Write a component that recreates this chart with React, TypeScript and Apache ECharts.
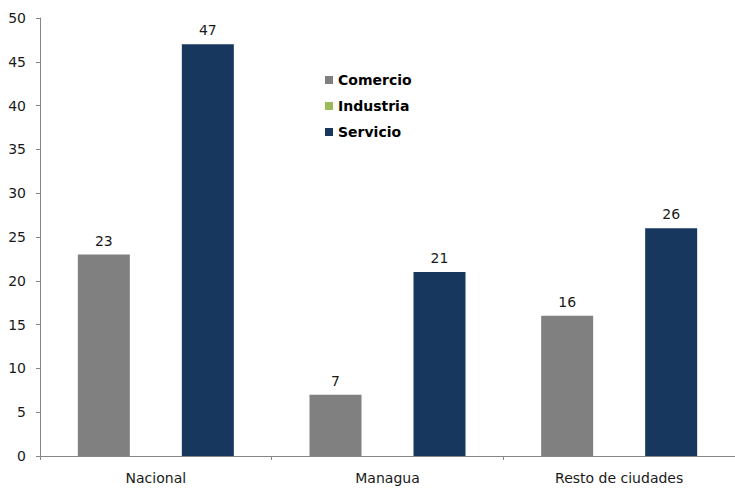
import React, { useEffect, useRef } from "react";
import * as echarts from "echarts";

const categories = ["Nacional", "Managua", "Resto de ciudades"];
const comercio = [23, 7, 16];
const industria: (number | null)[] = [null, null, null];
const servicio = [47, 21, 26];
const yTicks = { min: 0, max: 50, interval: 5 };

export default function App() {
  const ref = useRef<HTMLDivElement>(null);
  useEffect(() => {
    const chart = echarts.init(ref.current!, null, { renderer: "svg" });
    const font = "'DejaVu Sans', Verdana, sans-serif";
    const label = {
      show: true,
      position: "top" as const,
      color: "#1a1a1a",
      fontFamily: font,
      fontSize: 14,
      distance: 7,
    };
    chart.setOption({
      animation: false,
      backgroundColor: "#ffffff",
      grid: { left: 40, right: 0, top: 18, bottom: 33, containLabel: false },
      legend: {
        orient: "vertical",
        left: 320,
        top: 68,
        itemWidth: 8,
        itemHeight: 8,
        itemGap: 12,
        icon: "rect",
        textStyle: { fontFamily: font, fontSize: 14, fontWeight: "bold", color: "#000" },
        data: ["Comercio", "Industria", "Servicio"],
      },
      xAxis: {
        type: "category",
        data: categories,
        axisLine: { lineStyle: { color: "#868686", width: 1 } },
        axisTick: { show: true, length: 4, inside: false, lineStyle: { color: "#868686" } },
        axisLabel: { color: "#1a1a1a", fontFamily: font, fontSize: 14, margin: 15 },
      },
      yAxis: {
        type: "value",
        min: yTicks.min,
        max: yTicks.max,
        interval: yTicks.interval,
        splitLine: { show: false },
        axisLine: { show: true, lineStyle: { color: "#868686", width: 1 } },
        axisTick: { show: true, length: 4, lineStyle: { color: "#868686" } },
        axisLabel: { color: "#1a1a1a", fontFamily: font, fontSize: 14, margin: 14 },
      },
      series: [
        {
          name: "Comercio",
          type: "bar",
          data: comercio,
          barWidth: 52,
          barGap: "0%",
          itemStyle: { color: "#808080" },
          label,
        },
        {
          name: "Industria",
          type: "bar",
          data: industria,
          barWidth: 52,
          barGap: "0%",
          itemStyle: { color: "#9BBB59" },
          label,
        },
        {
          name: "Servicio",
          type: "bar",
          data: servicio,
          barWidth: 52,
          barGap: "0%",
          itemStyle: { color: "#17375E" },
          label,
        },
      ],
    });
    return () => chart.dispose();
  }, []);
  return (
    <div
      ref={ref}
      style={{ position: "fixed", left: 0, top: 0, width: 735, height: 489, background: "#fff" }}
    />
  );
}
